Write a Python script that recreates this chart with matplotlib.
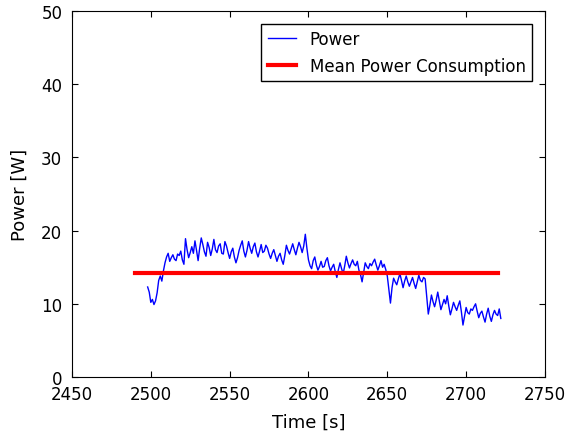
import matplotlib

matplotlib.use("Agg")
import matplotlib.pyplot as plt
import numpy as np

# power samples every 1 s starting at t = 2498 s
t_start = 2498
t_step = 1
power = [
    12.3, 11.6, 10.2, 10.6, 9.9, 10.4, 11.5, 13.2, 13.8, 13.1,
    14.5, 15.6, 16.4, 16.9, 15.8, 16.3, 16.7, 16.1, 15.9, 16.8,
    16.6, 17.2, 16.0, 15.4, 18.9, 17.4, 16.3, 17.0, 17.8, 16.9,
    18.6, 17.3, 15.9, 17.6, 19.0, 18.1, 17.1, 16.5, 18.4, 17.7,
    16.6, 17.5, 18.8, 17.4, 17.0, 17.9, 18.2, 16.9, 16.8, 18.5,
    17.9, 17.0, 16.2, 17.1, 17.6, 16.4, 15.6, 16.3, 17.3, 18.0,
    18.6, 17.2, 16.4, 17.3, 18.5, 17.6, 16.9, 17.8, 18.3, 17.1,
    16.4, 17.2, 18.1, 17.0, 17.2, 18.0, 17.6, 16.8, 16.2, 16.9,
    17.4, 16.6, 15.8, 16.5, 16.9, 16.0, 15.4, 16.6, 18.0, 17.3,
    16.8, 17.5, 18.2, 17.4, 16.7, 17.6, 18.4, 17.8, 17.0, 17.9,
    19.5, 17.6, 16.0, 15.2, 14.8, 15.9, 16.4, 15.3, 14.6, 15.1,
    15.8, 15.0, 15.1, 15.9, 16.3, 15.2, 14.5, 15.0, 15.4, 14.4,
    13.6, 14.7, 15.6, 14.8, 14.1, 15.2, 16.5, 15.6, 14.9, 15.5,
    16.0, 15.4, 15.2, 15.8, 14.6, 14.0, 13.0, 14.3, 15.6, 15.1,
    14.8, 15.5, 15.2, 15.7, 16.1, 15.3, 14.6, 15.2, 15.9, 15.0,
    15.4, 14.7, 13.8, 12.0, 10.1, 12.2, 13.5, 13.0, 12.6, 13.4,
    14.1, 13.2, 12.2, 13.1, 13.8, 13.0, 12.4, 13.0, 13.6, 12.8,
    12.1, 13.0, 13.9, 13.2, 13.0, 13.6, 13.4, 11.0, 8.6, 9.8,
    11.2, 10.3, 9.6, 10.5, 11.6, 10.4, 9.2, 9.9, 10.6, 10.0,
    11.1, 9.7, 8.5, 9.3, 10.2, 9.6, 9.1, 9.8, 10.4, 8.9,
    7.1, 8.3, 9.5, 8.8, 8.6, 9.3, 9.1, 9.6, 10.0, 9.0,
    8.1, 8.7, 9.0, 8.2, 7.5, 8.6, 9.4, 8.3, 7.6, 8.5,
    9.1, 8.6, 8.4, 9.3, 8.0,
]
mean_span = [2490, 2720]
mean_power = 14.2

x_ticks = [2450, 2500, 2550, 2600, 2650, 2700, 2750]
y_ticks = [0, 10, 20, 30, 40, 50]

time = t_start + t_step * np.arange(len(power))

fig = plt.figure(figsize=(5.74, 4.35), dpi=100)
ax = fig.add_axes([0.1254, 0.131, 0.824, 0.8414])

ax.plot(time, power, color="blue", linewidth=1, label="Power")
ax.plot(mean_span, [mean_power, mean_power], color="red", linewidth=3,
        label="Mean Power Consumption")

ax.set_xlim(2450, 2750)
ax.set_ylim(0, 50)
ax.set_xticks(x_ticks)
ax.set_yticks(y_ticks)
ax.tick_params(direction="in", top=True, right=True, length=4, labelsize=12)
ax.tick_params(axis="x", pad=6)
ax.tick_params(axis="y", pad=7)
ax.set_xlabel("Time [s]", fontsize=13, labelpad=7)
ax.set_ylabel("Power [W]", fontsize=13, labelpad=9)

leg = ax.legend(loc="upper right", fontsize=12, fancybox=False,
                framealpha=1, edgecolor="black", handlelength=1.7,
                borderaxespad=0.75)
leg.get_frame().set_linewidth(1)

fig.savefig("out.png", dpi=100)
plt.close(fig)
